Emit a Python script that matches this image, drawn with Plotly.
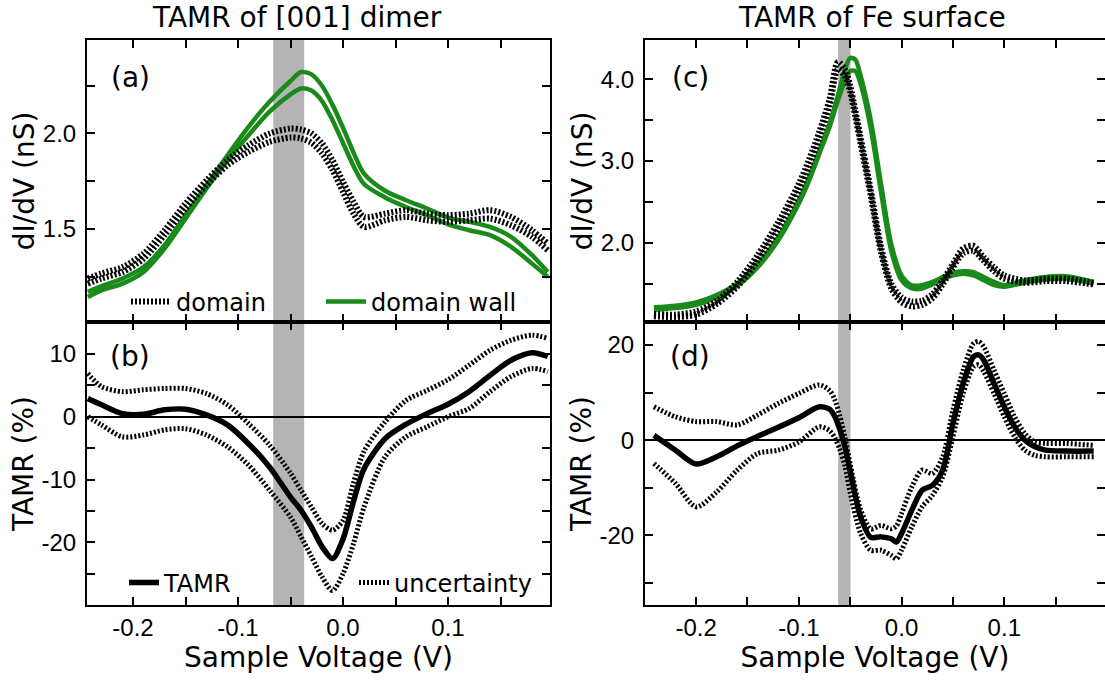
import plotly.graph_objects as go

# ---------------- data ----------------
V_A = [-0.243, -0.23, -0.21, -0.19, -0.17, -0.15, -0.13, -0.11, -0.09, -0.07, -0.05, -0.04, -0.03,
       -0.02, -0.01, 0.0, 0.01, 0.02, 0.04, 0.06, 0.08, 0.10, 0.12, 0.14, 0.16, 0.18, 0.195]
A_WALL1 = [1.17, 1.20, 1.24, 1.30, 1.414, 1.572, 1.729, 1.886, 2.035, 2.166, 2.275, 2.322, 2.31,
           2.25, 2.15, 2.03, 1.90, 1.79, 1.70, 1.65, 1.607, 1.559, 1.537, 1.51, 1.458, 1.362, 1.274]
A_WALL2 = [1.143, 1.178, 1.213, 1.274, 1.397, 1.554, 1.712, 1.86, 1.991, 2.114, 2.205, 2.236, 2.225,
           2.17, 2.07, 1.95, 1.83, 1.735, 1.665, 1.615, 1.572, 1.524, 1.493, 1.467, 1.406, 1.318, 1.248]
A_DOM1 = [1.24, 1.266, 1.30, 1.37, 1.493, 1.633, 1.755, 1.86, 1.939, 2.0, 2.026, 2.021, 2.0,
          1.948, 1.86, 1.747, 1.642, 1.563, 1.58, 1.598, 1.58, 1.572, 1.58, 1.598, 1.563, 1.493, 1.423]
A_DOM2 = [1.213, 1.24, 1.274, 1.344, 1.467, 1.607, 1.729, 1.834, 1.904, 1.956, 1.979, 1.974, 1.951,
          1.895, 1.808, 1.694, 1.58, 1.51, 1.545, 1.563, 1.545, 1.537, 1.545, 1.554, 1.519, 1.458, 1.388]

B_TAMR = [2.9, 1.9, 0.5, 0.4, 1.1, 1.2, 0.3, -1.3, -4.3, -8.0, -12.8, -14.9, -17.6,
          -20.7, -22.6, -19.5, -13.5, -8.3, -3.5, -1.2, 0.5, 2.0, 4.0, 6.6, 9.0, 10.2, 9.6]
B_UP = [6.9, 4.8, 4.0, 4.3, 4.5, 4.5, 3.7, 1.9, -1.1, -4.5, -9.0, -11.7, -14.4,
        -17.0, -18.1, -16.5, -10.5, -5.5, -0.8, 2.6, 4.2, 5.9, 8.2, 10.6, 12.2, 13.0, 12.5]
B_LO = [0.0, -1.3, -3.2, -2.9, -2.1, -1.9, -2.9, -4.8, -7.7, -11.7, -16.0, -19.1, -22.3,
        -25.5, -27.7, -25.0, -20.2, -14.4, -6.4, -3.2, -1.6, 0.0, 1.3, 4.0, 6.4, 7.7, 7.2]

V_C = [-0.241, -0.22, -0.20, -0.18, -0.16, -0.14, -0.12, -0.10, -0.09, -0.08, -0.07, -0.062,
       -0.055, -0.05, -0.045, -0.04, -0.03, -0.02, -0.01, 0.00, 0.01, 0.02, 0.03, 0.04, 0.05,
       0.06, 0.07, 0.08, 0.09, 0.10, 0.12, 0.14, 0.16, 0.187]
C_WALL1 = [1.21, 1.23, 1.27, 1.36, 1.50, 1.74, 2.07, 2.52, 2.80, 3.13, 3.46, 3.80,
           4.12, 4.26, 4.24, 4.05, 3.50, 2.72, 1.98, 1.60, 1.48, 1.48, 1.52, 1.58, 1.63,
           1.65, 1.64, 1.58, 1.52, 1.48, 1.54, 1.58, 1.59, 1.52]
C_WALL2 = [1.18, 1.20, 1.24, 1.33, 1.47, 1.70, 2.03, 2.48, 2.76, 3.09, 3.42, 3.74,
           3.98, 4.10, 4.10, 3.95, 3.40, 2.62, 1.90, 1.54, 1.44, 1.44, 1.49, 1.55, 1.60,
           1.62, 1.60, 1.54, 1.48, 1.46, 1.51, 1.55, 1.56, 1.50]
C_DOM1 = [1.13, 1.12, 1.16, 1.29, 1.52, 1.85, 2.25, 2.72, 3.02, 3.36, 3.76, 4.21,
          4.12, 3.92, 3.62, 3.30, 2.65, 1.95, 1.50, 1.33, 1.28, 1.29, 1.37, 1.54, 1.74,
          1.93, 1.96, 1.82, 1.70, 1.60, 1.54, 1.56, 1.56, 1.51]
C_DOM2 = [1.10, 1.09, 1.12, 1.25, 1.46, 1.78, 2.17, 2.64, 2.94, 3.28, 3.68, 4.12,
          4.03, 3.84, 3.54, 3.22, 2.57, 1.88, 1.44, 1.27, 1.22, 1.24, 1.32, 1.49, 1.70,
          1.87, 1.90, 1.78, 1.65, 1.56, 1.51, 1.53, 1.53, 1.49]

V_D = [-0.241, -0.22, -0.20, -0.18, -0.16, -0.14, -0.12, -0.10, -0.08, -0.07, -0.065, -0.06,
       -0.055, -0.05, -0.04, -0.03, -0.02, -0.01, -0.005, 0.00, 0.01, 0.02, 0.03, 0.04, 0.05,
       0.06, 0.07, 0.075, 0.08, 0.09, 0.10, 0.11, 0.12, 0.13, 0.14, 0.16, 0.187]
D_TAMR = [1.0, -2.1, -5.0, -3.5, -1.2, 0.8, 2.7, 4.7, 7.0, 6.5, 5.0, 2.2,
          -1.5, -6.5, -16.0, -20.4, -20.3, -20.7, -21.4, -19.6, -14.7, -10.5, -9.5, -6.3, 3.5,
          11.9, 17.5, 17.9, 16.8, 11.9, 7.0, 2.8, 0.0, -1.4, -2.1, -2.3, -2.3]
D_UP = [7.0, 4.9, 3.9, 3.9, 3.2, 5.3, 7.7, 9.8, 11.6, 10.4, 8.5, 5.0,
        0.5, -5.0, -14.5, -18.6, -17.9, -18.6, -18.0, -15.4, -9.8, -6.3, -7.0, -3.5, 6.3,
        14.7, 20.3, 20.7, 19.6, 14.7, 9.8, 4.9, 1.4, -0.4, -0.7, -0.7, -1.1]
D_LO = [-4.9, -9.1, -14.0, -10.9, -6.3, -2.8, -2.1, -0.4, 2.8, 2.0, 0.5, -2.0,
        -5.5, -11.0, -19.5, -23.1, -23.1, -24.2, -24.9, -23.1, -18.2, -14.0, -11.6, -7.7, 0.7,
        9.8, 15.4, 15.8, 14.4, 9.8, 4.9, 0.7, -2.1, -3.2, -3.5, -3.5, -3.5]

BAND_LEFT = [-0.0665, -0.037]
BAND_RIGHT = [-0.0617, -0.0497]

X_TICKS = [-0.2, -0.1, 0.0, 0.1]
X_TICKTEXT = ["-0.2", "-0.1", "0.0", "0.1"]
YA_TICKS, YA_TEXT = [1.5, 2.0], ["1.5", "2.0"]
YB_TICKS, YB_TEXT = [-20, -10, 0, 10], ["-20", "-10", "0", "10"]
YC_TICKS, YC_TEXT = [2.0, 3.0, 4.0], ["2.0", "3.0", "4.0"]
YD_TICKS, YD_TEXT = [-20, 0, 20], ["-20", "0", "20"]

# ---------------- style ----------------
W, H = 1105, 682
GREEN = "#1a8a1a"
BLACK = "#000000"
DOT = "2px,2px"
TXT_FONT = "DejaVu Sans, Verdana, sans-serif"
TICK_FONT = "Liberation Sans, Arial, sans-serif"

LEFT = [87 / W, 550 / W]
RIGHT = [645 / W, 1.0]
TOP = [1 - 322 / H, 1 - 40 / H]
BOT = [1 - 605 / H, 1 - 322 / H]

fig = go.Figure()


def line(x, y, xa, ya, color, width, dash="solid", name=None, legend="legend", show=False, rank=None):
    fig.add_trace(go.Scatter(
        x=x, y=y, xaxis=xa, yaxis=ya, mode="lines", name=name,
        line=dict(color=color, width=width, dash=dash, shape="spline", smoothing=0.8),
        showlegend=show, legend=legend, legendrank=rank if rank else 1000,
        hoverinfo="skip"))


# panel (a)
line(V_A, A_WALL1, "x", "y", GREEN, 4.5, name="domain wall", show=True, rank=2)
line(V_A, A_WALL2, "x", "y", GREEN, 4.5)
line(V_A, A_DOM1, "x", "y", BLACK, 6, DOT, name="domain", show=True, rank=1)
line(V_A, A_DOM2, "x", "y", BLACK, 6, DOT)
# panel (b)
line(V_A, B_UP, "x2", "y2", BLACK, 5, DOT, name="uncertainty", legend="legend2", show=True, rank=2)
line(V_A, B_LO, "x2", "y2", BLACK, 5, DOT)
line(V_A, B_TAMR, "x2", "y2", BLACK, 5.5, name="TAMR", legend="legend2", show=True, rank=1)
# panel (c)
line(V_C, C_WALL1, "x3", "y3", GREEN, 4.5)
line(V_C, C_WALL2, "x3", "y3", GREEN, 4.5)
line(V_C, C_DOM1, "x3", "y3", BLACK, 6, DOT)
line(V_C, C_DOM2, "x3", "y3", BLACK, 6, DOT)
# panel (d)
line(V_D, D_UP, "x4", "y4", BLACK, 5, DOT)
line(V_D, D_LO, "x4", "y4", BLACK, 5, DOT)
line(V_D, D_TAMR, "x4", "y4", BLACK, 5.5)

tickfont = dict(family=TICK_FONT, size=24, color="black")
titlefont = dict(family=TXT_FONT, size=28, color="black")


def xaxis(domain, anchor, rng, labels, title=None):
    d = dict(domain=domain, anchor=anchor, range=rng, tickmode="array", tickvals=X_TICKS,
             ticktext=X_TICKTEXT, showticklabels=labels, ticks="inside", ticklen=8, tickwidth=2,
             tickcolor="black", showline=True, linewidth=2, linecolor="black", mirror="ticks",
             showgrid=False, zeroline=False, automargin=False, tickfont=tickfont,
             minor=dict(tickmode="linear", tick0=0, dtick=0.05, ticks="inside", ticklen=8,
                        tickwidth=2, tickcolor="black", showgrid=False))
    if title:
        d["title"] = dict(text=title, font=titlefont, standoff=4)
    return d


def yaxis(domain, anchor, rng, tv, tt, mdt, title, zero=False):
    return dict(domain=domain, anchor=anchor, range=rng, tickmode="array", tickvals=tv,
                ticktext=tt, ticks="inside", ticklen=8, tickwidth=2, tickcolor="black",
                showline=True, linewidth=2, linecolor="black", mirror="ticks", showgrid=False,
                zeroline=zero, zerolinecolor="black", zerolinewidth=2, automargin=False,
                tickfont=tickfont, ticklabelstandoff=4,
                title=dict(text=title, font=titlefont, standoff=0),
                minor=dict(tickmode="linear", tick0=0, dtick=mdt, ticks="inside", ticklen=8,
                           tickwidth=2, tickcolor="black", showgrid=False))


XR_L = [-0.2438, 0.1971]
XR_R = [-0.2497, 0.198]

fig.update_layout(
    width=W, height=H, template="none",
    margin=dict(l=0, r=0, t=0, b=0),
    paper_bgcolor="white", plot_bgcolor="rgba(0,0,0,0)",
    xaxis=xaxis(LEFT, "y", XR_L, False),
    yaxis=yaxis(TOP, "x", [1.012, 2.49], YA_TICKS, YA_TEXT, 0.25, "dI/dV (nS)"),
    xaxis2=xaxis(LEFT, "y2", XR_L, True, "Sample Voltage (V)"),
    yaxis2=yaxis(BOT, "x2", [-30.0, 15.1], YB_TICKS, YB_TEXT, 5, "TAMR (%)", zero=True),
    xaxis3=xaxis(RIGHT, "y3", XR_R, False),
    yaxis3=yaxis(TOP, "x3", [1.03, 4.48], YC_TICKS, YC_TEXT, 0.5, "dI/dV (nS)"),
    xaxis4=xaxis(RIGHT, "y4", XR_R, True, "Sample Voltage (V)"),
    yaxis4=yaxis(BOT, "x4", [-34.6, 24.8], YD_TICKS, YD_TEXT, 10, "TAMR (%)", zero=True),
    legend=dict(orientation="h", x=126 / W, y=1 - 302 / H, xanchor="left", yanchor="middle",
                bgcolor="rgba(0,0,0,0)", font=dict(family=TXT_FONT, size=24, color="black"),
                entrywidthmode="pixels", entrywidth=140, itemwidth=40, tracegroupgap=0),
    legend2=dict(orientation="h", x=124 / W, y=1 - 583 / H, xanchor="left", yanchor="middle",
                 bgcolor="rgba(0,0,0,0)", font=dict(family=TXT_FONT, size=24, color="black"),
                 entrywidthmode="pixels", entrywidth=185, itemwidth=30, tracegroupgap=0),
    showlegend=True,
)

# grey voltage bands spanning both panels
fig.add_shape(type="rect", xref="x", yref="paper", x0=BAND_LEFT[0], x1=BAND_LEFT[1],
              y0=BOT[0], y1=TOP[1], fillcolor="#b4b4b4", line=dict(width=0), layer="below")
fig.add_shape(type="rect", xref="x3", yref="paper", x0=BAND_RIGHT[0], x1=BAND_RIGHT[1],
              y0=BOT[0], y1=TOP[1], fillcolor="#b4b4b4", line=dict(width=0), layer="below")

# titles and panel labels
for txt, cx in [("TAMR of [001] dimer", 297 / W), ("TAMR of Fe surface", 872 / W)]:
    fig.add_annotation(text=txt, x=cx, y=1 - 18 / H, xref="paper", yref="paper",
                       showarrow=False, font=titlefont, xanchor="center", yanchor="middle")
for txt, px, py in [("(a)", 130, 77), ("(b)", 130, 356), ("(c)", 690, 77), ("(d)", 690, 356)]:
    fig.add_annotation(text=txt, x=px / W, y=1 - py / H, xref="paper", yref="paper",
                       showarrow=False, font=titlefont, xanchor="center", yanchor="middle")

fig.write_html("out.html")
